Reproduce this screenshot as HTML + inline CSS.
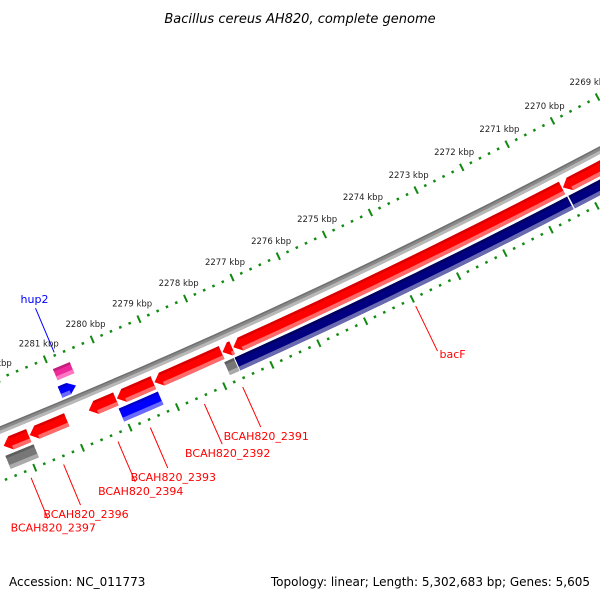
<!DOCTYPE html>
<html><head><meta charset="utf-8">
<style>
html,body{margin:0;padding:0;background:#fff;}
svg{display:block;}
text{font-family:"DejaVu Sans","Liberation Sans",sans-serif;}
</style></head>
<body>
<svg id="map" width="600" height="600" viewBox="0 0 600 600" xmlns="http://www.w3.org/2000/svg">
<rect x="0" y="0" width="600" height="600" fill="#fff"/>
<text x="300" y="23" text-anchor="middle" font-size="13" font-style="italic" fill="#000">Bacillus cereus AH820, complete genome</text>
<g id="ticks"></g>
<g id="backbone"></g>
<g id="features"></g>
<g id="labels"></g>
<text x="9" y="586" font-size="12" fill="#000">Accession: NC_011773</text>
<text x="590" y="586" text-anchor="end" font-size="12" fill="#000">Topology: linear; Length: 5,302,683 bp; Genes: 5,605</text>
</svg>
<script>
// ---- data ----
const fwdLow  = [2281871, 2281071, 2280034, 2279240, 2277790, 2277565, 2270440, 2268500];
const fwdHigh = [2282397, 2281850, 2280606, 2280013, 2279215, 2277770, 2277540, 2270420];
const revLow  = [2281850, 2279230, 2277620, 2270430, 2268500];
const revHigh = [2282440, 2280057, 2277820, 2277600, 2270400];
const revColor = ['gray', 'blue', 'gray', 'navy', 'navy'];
const innerLow  = [2280580, 2280646];
const innerHigh = [2280937, 2280983];
const innerColor = ['pink', 'blue'];
const labelNames = ['BCAH820_2397','BCAH820_2396','BCAH820_2394','BCAH820_2393','BCAH820_2392','BCAH820_2391','bacF'];
const labelBp = [2282140, 2281460, 2280320, 2279640, 2278500, 2277690, 2274000];
const hupName = ['hup2'];
const hupBp = [2280787];
const tickStart = 2268000, tickEnd = 2284000, tickStep = 200, majorStep = 1000;

// ---- geometry ----
const NS = 'http://www.w3.org/2000/svg';
const cx = -2539, cy = -5794, R = 6722, TH0 = 1.1350, K = 7.636e-6;
function ang(bp){ return TH0 + (bp - 2276000) * K; }
function P(r, bp){ const t = ang(bp); return [cx + r*Math.cos(t), cy + r*Math.sin(t)]; }
function arc(r, b1, b2, n){ const pts=[]; for(let i=0;i<=n;i++){ pts.push(P(r, b1 + (b2-b1)*i/n)); } return pts; }
function band(r1, r2, b1, b2){
  const n = Math.max(2, Math.ceil(Math.abs(b2-b1)/300));
  return arc(r1,b1,b2,n).concat(arc(r2,b2,b1,n));
}
function ptsStr(a){ return a.map(p=>p[0].toFixed(2)+','+p[1].toFixed(2)).join(' '); }
function poly(parent, pts, fill){
  const e = document.createElementNS(NS,'polygon');
  e.setAttribute('points', ptsStr(pts));
  e.setAttribute('fill', fill);
  parent.appendChild(e);
  return e;
}
const COLORS = {
  red:['#ff0000','#ff6a6a','#d80000'], navy:['#000080','#6a6ab0','#000060'],
  blue:['#0000ff','#6a6aff','#0000c8'], gray:['#777777','#aaaaaa','#5e5e5e'],
  pink:['#ee2a9a','#ff77c4','#c01f7c']
};
const HEAD = 150;
function feature(parent, r1, r2, lo, hi, col, dir, name){
  const g = document.createElementNS(NS,'g');
  parent.appendChild(g);
  
  
  const c = COLORS[col];
  const rm = (r1+r2)/2;
  let pts;
  if(dir === 1){
    const b = Math.max(lo, hi - HEAD);
    pts = arc(r1, lo, b, Math.max(2,Math.ceil((b-lo)/300))).concat([P(rm, hi)]).concat(arc(r2, b, lo, Math.max(2,Math.ceil((b-lo)/300))));
  } else if(dir === -1){
    const b = Math.min(hi, lo + HEAD);
    pts = [P(rm, lo)].concat(arc(r1, b, hi, Math.max(2,Math.ceil((hi-b)/300)))).concat(arc(r2, hi, b, Math.max(2,Math.ceil((hi-b)/300))));
  } else {
    pts = band(r1, r2, lo, hi);
  }
  poly(g, pts, c[0]);
  const bLo = dir===-1 ? Math.min(hi, lo+HEAD) : lo;
  const bHi = dir===1 ? Math.max(lo, hi-HEAD) : hi;
  poly(g, band(r1, r1+2.5, bLo, bHi), c[2]);
  poly(g, band(r2-4, r2, bLo, bHi), c[1]);
}

// ---- ruler ----
const tg = document.getElementById('ticks');
function tick(r, bp, len, w){
  const a = P(r-len/2, bp), b = P(r+len/2, bp);
  const l = document.createElementNS(NS,'line');
  l.setAttribute('x1',a[0]); l.setAttribute('y1',a[1]);
  l.setAttribute('x2',b[0]); l.setAttribute('y2',b[1]);
  l.setAttribute('stroke','#118a11'); l.setAttribute('stroke-width',w);
  
  
  tg.appendChild(l);
}
for(let bp = tickStart; bp <= tickEnd; bp += tickStep){
  const major = bp % majorStep === 0;
  tick(R-48, bp, major?8:2.5, major?2:2.5);
  tick(R+48, bp, major?8:2.5, major?2:2.5);
  if(major){
    const p = P(R-65, bp);
    if(p[0] > -30 && p[0] < 640 && p[1] > 40){
      const t = document.createElementNS(NS,'text');
      t.setAttribute('x', p[0]); t.setAttribute('y', p[1]+3);
      t.setAttribute('text-anchor','middle'); t.setAttribute('font-size','8.5');
      t.setAttribute('fill','#222');
      
      
      t.textContent = (bp/1000) + ' kbp';
      tg.appendChild(t);
    }
  }
}

// ---- backbone ----
const bb = document.getElementById('backbone');
poly(bb, band(R-3.5, R+3.5, 2267000, 2285000), '#8a8a8a');
poly(bb, band(R+0.5, R+3.5, 2267000, 2285000), '#b8b8b8');
poly(bb, band(R-3.5, R-2, 2267000, 2285000), '#707070');

// ---- features ----
const fg = document.getElementById('features');
for(let i=0;i<fwdLow.length;i++) feature(fg, R+9, R+23, fwdLow[i], fwdHigh[i], 'red', 1, 'forward-gene-'+i);
for(let i=0;i<revLow.length;i++) feature(fg, R+26, R+40, revLow[i], revHigh[i], revColor[i], 0, 'reverse-gene-'+i);
feature(fg, R-36, R-24, innerLow[0], innerHigh[0], innerColor[0], 0, 'inner-feature-pink');
feature(fg, R-18, R-6, innerLow[1], innerHigh[1], innerColor[1], -1, 'inner-feature-blue');

// ---- labels ----
const lg = document.getElementById('labels');
function mkLine(a, b, col, name){
  const l = document.createElementNS(NS,'line');
  l.setAttribute('x1',a[0]); l.setAttribute('y1',a[1]);
  l.setAttribute('x2',b[0]); l.setAttribute('y2',b[1]);
  l.setAttribute('stroke',col); l.setAttribute('stroke-width','1');
  
  
  lg.appendChild(l);
}
for(let i=0;i<labelNames.length;i++){
  const short = labelNames[i].length < 6;
  const a = P(R+56, labelBp[i]), b = P(short ? R+106 : R+100, labelBp[i]);
  mkLine(a, b, '#ff0000', 'label-leader');
  const t = document.createElementNS(NS,'text');
  if(short){ t.setAttribute('x', b[0]+2); t.setAttribute('y', b[1]+7); }
  else { t.setAttribute('x', b[0]+5.5); t.setAttribute('y', b[1]+13); t.setAttribute('text-anchor','middle'); }
  t.setAttribute('font-size','11'); t.setAttribute('fill','#ff0000');
  
  
  t.textContent = labelNames[i];
  lg.appendChild(t);
}
{
  const a = P(R-51, hupBp[0]), b = P(R-99, hupBp[0]);
  mkLine(a, b, '#0000ff', 'label-leader');
  const t = document.createElementNS(NS,'text');
  t.setAttribute('x', b[0]-1); t.setAttribute('y', b[1]-5);
  t.setAttribute('text-anchor','middle');
  t.setAttribute('font-size','11'); t.setAttribute('fill','#0000ff');
  
  
  t.textContent = hupName[0];
  lg.appendChild(t);
}
</script>
</body></html>
